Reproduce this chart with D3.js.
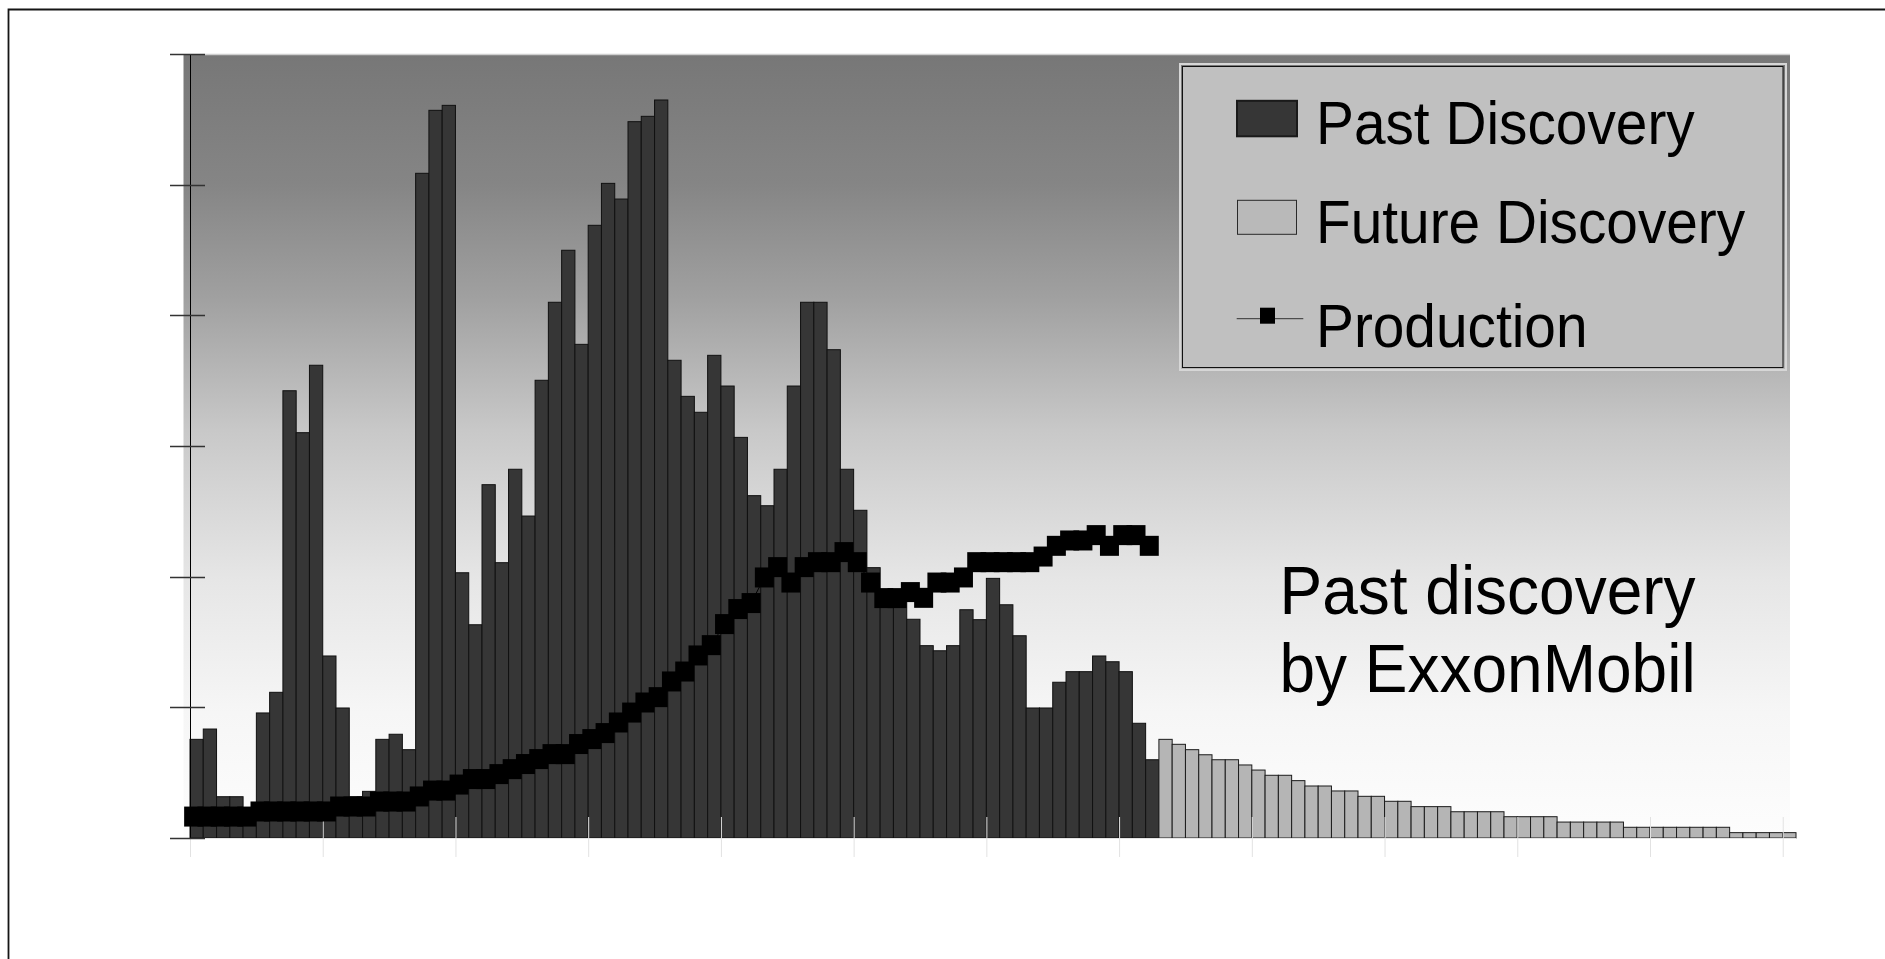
<!DOCTYPE html>
<html>
<head>
<meta charset="utf-8">
<script src="https://cdn.jsdelivr.net/npm/d3@7"></script>
<style>
html,body{margin:0;padding:0;background:#fff;overflow:hidden}
text{font-family:"Liberation Sans",Arial,Helvetica,sans-serif}
</style>
</head>
<body>
<svg id="chart" width="1885" height="959"></svg>
<script>
// ---------- data ----------
const pastYears = d3.range(1930, 2003);
const futureYears = d3.range(2003, 2051);
const pastDiscovery = [
  7.55, 8.34, 3.16, 3.16, 1.76, 9.57, 11.15, 34.23, 31.02, 36.18,
  13.93, 9.95, 3.16, 3.57, 7.55, 7.94, 6.76, 50.87, 55.69, 56.07,
  20.30, 16.32, 27.04, 21.07, 28.22, 24.64, 35.03, 41.00, 44.98, 37.78,
  46.89, 50.10, 48.90, 54.82, 55.23, 56.48, 36.56, 33.80, 32.58, 36.94,
  34.59, 30.66, 26.20, 25.43, 28.22, 34.59, 41.00, 41.00, 37.37, 28.22,
  25.08, 20.69, 18.52, 18.52, 16.74, 14.72, 14.33, 14.72, 17.47, 16.71,
  19.87, 17.85, 15.48, 9.95, 9.95, 11.92, 12.73, 12.73, 13.93, 13.49,
  12.73, 8.78, 5.99
];
const futureDiscovery = [
  7.55, 7.17, 6.76, 6.37, 5.99, 5.99, 5.59, 5.20, 4.80, 4.80,
  4.39, 3.98, 3.98, 3.60, 3.60, 3.19, 3.19, 2.81, 2.81, 2.40,
  2.40, 2.40, 2.01, 2.01, 2.01, 2.01, 1.63, 1.63, 1.63, 1.63,
  1.22, 1.22, 1.22, 1.22, 1.22, 0.82, 0.82, 0.82, 0.82, 0.82,
  0.82, 0.82, 0.82, 0.41, 0.41, 0.41, 0.41, 0.41
];
const production = [
  1.64, 1.64, 1.64, 1.64, 1.64, 2.03, 2.03, 2.03, 2.03, 2.03,
  2.03, 2.41, 2.41, 2.41, 2.79, 2.79, 2.79, 3.18, 3.63, 3.63,
  4.09, 4.51, 4.51, 4.89, 5.27, 5.66, 6.04, 6.42, 6.42, 7.19,
  7.57, 8.03, 8.84, 9.60, 10.37, 10.78, 11.98, 12.74, 13.97, 14.76,
  16.37, 17.52, 17.98, 19.94, 20.73, 19.55, 20.73, 21.11, 21.11, 21.88,
  21.11, 19.55, 18.36, 18.36, 18.82, 18.38, 19.55, 19.55, 19.94, 21.11,
  21.11, 21.11, 21.11, 21.11, 21.54, 22.36, 22.77, 22.77, 23.18, 22.36,
  23.18, 23.18, 22.36
];
const yTickValues = [0, 10, 20, 30, 40, 50, 60];
const xTickYears = [1930, 1940, 1950, 1960, 1970, 1980, 1990, 2000, 2010, 2020, 2030, 2040, 2050];
const legendLabels = ["Past Discovery", "Future Discovery", "Production"];
const noteLines = ["Past discovery", "by ExxonMobil"];

// ---------- layout ----------
const allYears = pastYears.concat(futureYears);
const svg = d3.select("#chart");
const x = d3.scaleBand().domain(allYears).range([190, 1796]).paddingInner(0).paddingOuter(0);
const y = d3.scaleLinear().domain([0, 60]).range([838, 54]);
const plotLeft = 183.5, plotRight = 1790;

// outer frame
svg.append("path").attr("d", "M8.5,1000V9.5H1900")
  .attr("fill", "none").attr("stroke", "#151515").attr("stroke-width", 1.8);

// background gradient
const defs = svg.append("defs");
const grad = defs.append("linearGradient").attr("id", "bg")
  .attr("x1", 0).attr("y1", 0).attr("x2", 0).attr("y2", 1);
[[0, "#777777"], [0.165, "#858585"], [0.31, "#a0a0a0"], [0.48, "#c8c8c8"],
 [0.54, "#d2d2d2"], [0.67, "#e6e6e6"], [0.84, "#f6f6f6"], [1, "#fdfdfd"]]
  .forEach(s => grad.append("stop").attr("offset", s[0]).attr("stop-color", s[1]));
svg.append("rect").attr("x", plotLeft).attr("y", y(60))
  .attr("width", plotRight - plotLeft).attr("height", y(0) - y(60))
  .attr("fill", "url(#bg)");
svg.append("line").attr("x1", 205).attr("x2", plotRight)
  .attr("y1", y(60) + 0.5).attr("y2", y(60) + 0.5)
  .attr("stroke", "#cfcfcf").attr("stroke-width", 1.5);

// bars
const pastData = pastYears.map((yr, i) => ({yr, v: pastDiscovery[i]}));
const futureData = futureYears.map((yr, i) => ({yr, v: futureDiscovery[i]}));
svg.append("g").selectAll("rect").data(pastData).join("rect")
  .attr("x", d => x(d.yr)).attr("y", d => y(d.v))
  .attr("width", x.bandwidth()).attr("height", d => y(0) - y(d.v))
  .attr("fill", "#363636").attr("stroke", "#111").attr("stroke-width", 1);
svg.append("g").selectAll("rect").data(futureData).join("rect")
  .attr("x", d => x(d.yr)).attr("y", d => y(d.v))
  .attr("width", x.bandwidth()).attr("height", d => y(0) - y(d.v))
  .attr("fill", "#b5b5b5").attr("stroke", "#1c1c1c").attr("stroke-width", 1);

// baseline
svg.append("line").attr("x1", 190).attr("x2", 1796)
  .attr("y1", y(0) + 0.5).attr("y2", y(0) + 0.5)
  .attr("stroke", "#e4e4e4").attr("stroke-width", 1);

// x ticks (light, no labels)
svg.append("g").selectAll("line").data(xTickYears).join("line")
  .attr("x1", d => x(d) + 0.5).attr("x2", d => x(d) + 0.5)
  .attr("y1", y(0) - 21).attr("y2", y(0) + 19)
  .attr("stroke", "#e2e2e2").attr("stroke-width", 1);

// production line + markers
const markerShift = -3;
const prodData = pastYears.map((yr, i) => ({yr, v: production[i]}));
const px = d => x(d.yr) + x.bandwidth() / 2 + markerShift;
svg.append("path").datum(prodData)
  .attr("d", d3.line().x(px).y(d => y(d.v)))
  .attr("fill", "none").attr("stroke", "#000").attr("stroke-width", 1);
const mw = 19, mh = 20;
svg.append("g").selectAll("rect").data(prodData).join("rect")
  .attr("x", d => px(d) - mw / 2).attr("y", d => y(d.v) - mh / 2)
  .attr("width", mw).attr("height", mh).attr("fill", "#000");

// y axis line and ticks
svg.append("line").attr("x1", 190.5).attr("x2", 190.5)
  .attr("y1", y(60)).attr("y2", y(0))
  .attr("stroke", "#000").attr("stroke-width", 1);
svg.append("g").selectAll("line").data(yTickValues).join("line")
  .attr("x1", 170).attr("x2", 205)
  .attr("y1", d => Math.round(y(d)) + 0.5).attr("y2", d => Math.round(y(d)) + 0.5)
  .attr("stroke", "#333").attr("stroke-width", 1.3);

// legend
const lg = svg.append("g");
lg.append("rect").attr("x", 1180).attr("y", 64).attr("width", 606).attr("height", 306)
  .attr("fill", "none").attr("stroke", "#d6d6d6").attr("stroke-width", 2);
lg.append("rect").attr("x", 1182.5).attr("y", 66.5).attr("width", 600.5).attr("height", 301)
  .attr("fill", "#c0c0c0").attr("stroke", "#111").attr("stroke-width", 1);
const baselines = [144.3, 243.3, 347];
legendLabels.forEach((lab, i) => {
  const gy = baselines[i];
  if (i === 0) {
    lg.append("rect").attr("x", 1237).attr("y", gy - 43.5).attr("width", 60).attr("height", 35.5)
      .attr("fill", "#363636").attr("stroke", "#1a1a1a").attr("stroke-width", 2);
  } else if (i === 1) {
    lg.append("rect").attr("x", 1237.5).attr("y", gy - 43).attr("width", 59).attr("height", 34)
      .attr("fill", "#b9b9b9").attr("stroke", "#2a2a2a").attr("stroke-width", 1);
  } else {
    lg.append("line").attr("x1", 1236.7).attr("x2", 1303.3).attr("y1", gy - 28.3).attr("y2", gy - 28.3)
      .attr("stroke", "#333").attr("stroke-width", 1);
    lg.append("rect").attr("x", 1260).attr("y", gy - 39.3).attr("width", 15).attr("height", 16)
      .attr("fill", "#000");
  }
  lg.append("text").attr("transform", `translate(1316,${gy}) scale(1,1.06)`)
    .attr("font-size", 56.8).attr("fill", "#000").text(lab);
});

// annotation
const noteBase = [614, 691.7];
svg.append("g").selectAll("text").data(noteLines).join("text")
  .attr("transform", (d, i) => `translate(1279.5,${noteBase[i]}) scale(1,1.08)`)
  .attr("font-size", 64).attr("fill", "#000").text(d => d);
</script>
</body>
</html>
